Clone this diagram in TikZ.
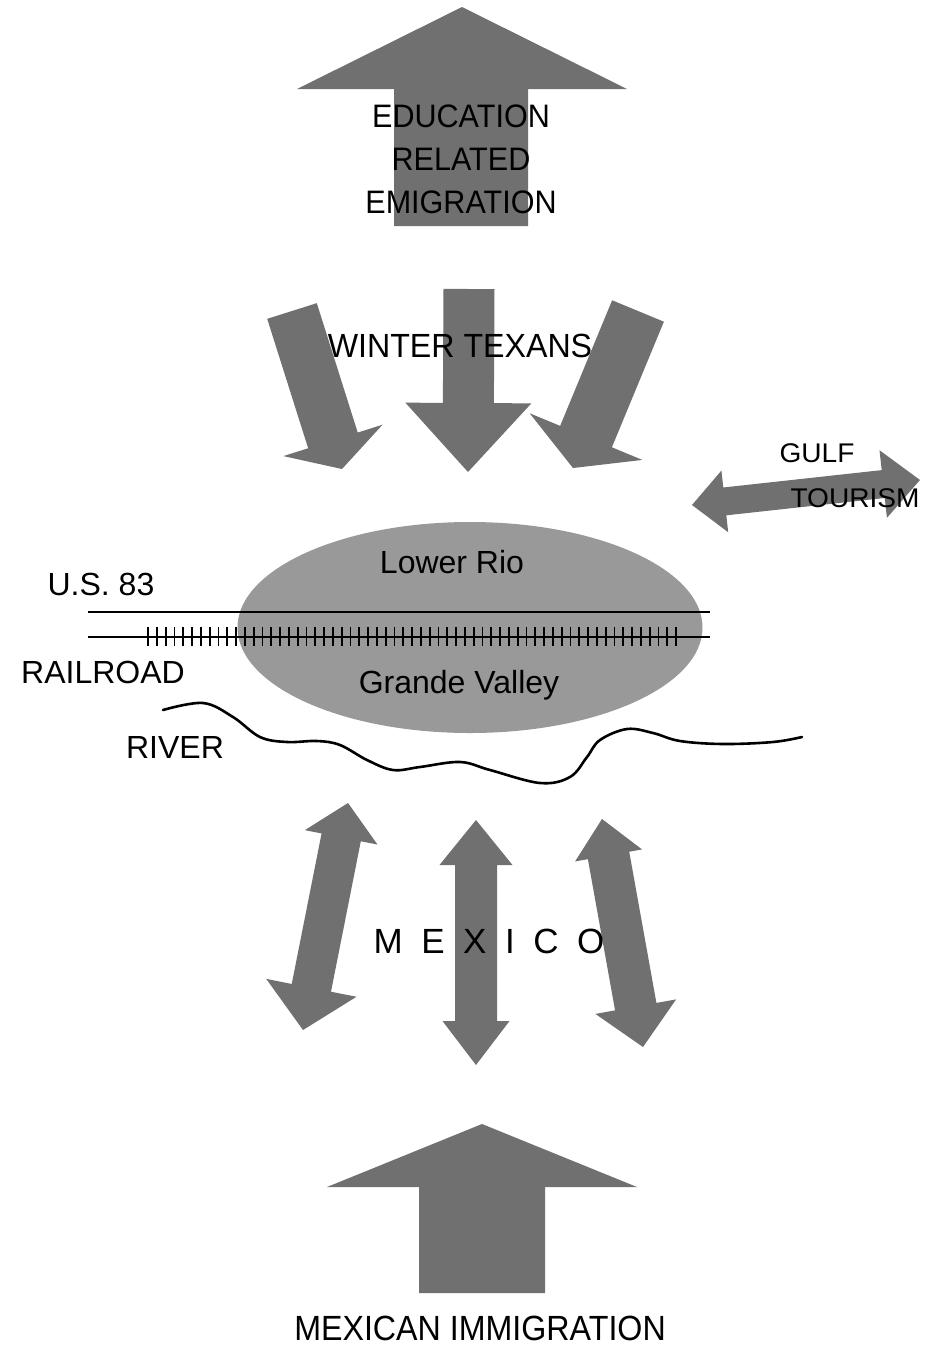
\documentclass[tikz,border=0pt]{standalone}
\usepackage{fontspec}
\usepackage{graphicx}
\setmainfont{Liberation Sans}
\usetikzlibrary{calc,shapes.geometric}
\tikzset{
  arrowfill/.style={fill=black!56},
  ellfill/.style={fill=black!40},
  lbl/.style={inner sep=0pt, anchor=base, text=black},
  road/.style={draw=black, line width=2.4pt},
  tick/.style={draw=black, line width=1.8pt},
  riverline/.style={draw=black, line width=2.6pt, line cap=round}
}
\newcommand\fs[2]{\fontsize{#1}{#2}\selectfont}
% single block arrow: tail, tip, shaft half width, head half width, head length
\newcommand\blockarrow[5]{%
  \coordinate (hb) at ($(#2)!#5!(#1)$);
  \fill[arrowfill] ($(#1)!#3!90:(#2)$) -- ($(hb)!#3!90:(#2)$) -- ($(hb)!#4!90:(#2)$) -- (#2)
    -- ($(hb)!#4!-90:(#2)$) -- ($(hb)!#3!-90:(#2)$) -- ($(#1)!#3!-90:(#2)$) -- cycle;}
% double block arrow: end A, end B, shaft hw, head A hw, head A len, head B hw, head B len
\newcommand\dblarrow[7]{%
  \coordinate (ha) at ($(#1)!#5!(#2)$);
  \coordinate (hb) at ($(#2)!#7!(#1)$);
  \fill[arrowfill] (#1) -- ($(ha)!#4!90:(#2)$) -- ($(ha)!#3!90:(#2)$) -- ($(hb)!#3!90:(#2)$)
    -- ($(hb)!#6!90:(#2)$) -- (#2) -- ($(hb)!#6!-90:(#2)$) -- ($(hb)!#3!-90:(#2)$)
    -- ($(ha)!#3!-90:(#2)$) -- ($(ha)!#4!-90:(#2)$) -- cycle;}
\begin{document}
\begin{tikzpicture}[x=1pt,y=-1pt]
\useasboundingbox[fill=white] (0,0) rectangle (931,1345);

% ---- top arrow: education related emigration
\fill[arrowfill] (462,7) -- (627,89) -- (528,89) -- (528,226) -- (394,226) -- (394,89) -- (297,89) -- cycle;
\node[lbl] (edu1) at (461,127) {\fs{32.5}{36}\scalebox{0.94}[1]{EDUCATION}};
\node[lbl] (edu2) at (461,170) {\fs{32.5}{36}\scalebox{0.94}[1]{RELATED}};
\node[lbl] (edu3) at (461,213) {\fs{32.5}{36}\scalebox{0.94}[1]{EMIGRATION}};

% ---- winter texans arrows
\coordinate (wlT) at (292,311); \coordinate (wlB) at (342,469);
\coordinate (wcT) at (469,289); \coordinate (wcB) at (468,472);
\coordinate (wrT) at (638,311); \coordinate (wrB) at (573,468);
\blockarrow{wlT}{wlB}{26pt}{52pt}{30pt}
\blockarrow{wcT}{wcB}{25.5pt}{63pt}{69pt}
\blockarrow{wrT}{wrB}{28pt}{61pt}{34pt}
\node[lbl] (winter) at (460,357) {\fs{33.5}{38}\scalebox{0.96}[1]{WINTER TEXANS}};

% ---- gulf tourism
\coordinate (gL) at (692,505); \coordinate (gR) at (920,480);
\dblarrow{gL}{gR}{14pt}{31pt}{33pt}{34pt}{37pt}
\node[lbl] (gulf) at (817,462) {\fs{27}{30}\scalebox{1.04}[1]{GULF}};
\node[lbl] (tour) at (855,507) {\fs{27}{30}\scalebox{1.04}[1]{TOURISM}};

% ---- valley ellipse, road and railroad
\node[ellipse, ellfill, minimum width=465pt, minimum height=211pt, inner sep=0pt] (valley) at (470,627.5) {};
\coordinate (usA) at (88,612); \coordinate (usB) at (710,612);
\coordinate (rrA) at (88,637); \coordinate (rrB) at (710,637);
\draw[road] (usA) -- (usB);
\draw[road] (rrA) -- (rrB);
\foreach \x in {148,156.8,...,679} \draw[tick] (\x,627) -- (\x,646);
\node[lbl] (lower) at (452,573) {\fs{32}{36}Lower Rio};
\node[lbl] (grande) at (459,693) {\fs{32}{36}Grande Valley};
\node[lbl] (us83) at (101,595) {\fs{32}{36}U.S. 83};
\node[lbl] (rail) at (103,683) {\fs{32}{36}RAILROAD};

% ---- river
\draw[riverline] plot[smooth, tension=0.6] coordinates {
  (163,710) (203,703) (233,717) (260,737) (287,742) (317,741) (340,745)
  (367,760) (393,770) (420,767) (460,762) (490,770) (540,783) (570,777)
  (587,757) (600,740) (627,729) (653,733) (680,741) (723,744) (773,742) (802,737)};
\node[lbl] (river) at (175,758) {\fs{32}{36}RIVER};

% ---- mexico arrows
\coordinate (mlT) at (348,803); \coordinate (mlB) at (303,1030);
\coordinate (mcT) at (476,820); \coordinate (mcB) at (476,1065);
\coordinate (mrT) at (602,819); \coordinate (mrB) at (643,1047);
\dblarrow{mlT}{mlB}{20pt}{37pt}{35pt}{46pt}{43pt}
\dblarrow{mcT}{mcB}{21pt}{36.5pt}{45pt}{33.5pt}{44pt}
\dblarrow{mrT}{mrB}{21pt}{34pt}{37pt}{41pt}{41pt}
\node[lbl] (mexico) at (489,953) {\fs{35}{40}\spaceskip=18.5pt M E X I C O};

% ---- bottom arrow: mexican immigration
\fill[arrowfill] (482,1124) -- (637,1187) -- (545,1187) -- (545,1293) -- (419,1293) -- (419,1187) -- (327,1187) -- cycle;
\node[lbl] (immig) at (480,1340) {\fs{35}{40}\scalebox{0.92}[1]{MEXICAN IMMIGRATION}};
\end{tikzpicture}
\end{document}
